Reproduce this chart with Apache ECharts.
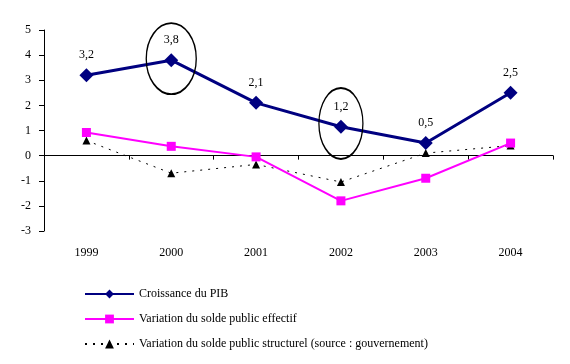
<!DOCTYPE html>
<html><head><meta charset="utf-8">
<script src="https://cdn.jsdelivr.net/npm/echarts@6/dist/echarts.min.js"></script>
<style>html,body{margin:0;padding:0;background:#fff}#c{width:570px;height:364px}</style>
</head><body><div id="c"></div>
<script>
const years = ['1999','2000','2001','2002','2003','2004'];
const croissance = [3.2, 3.8, 2.1, 1.15, 0.5, 2.5];
const croissanceLabels = ['3,2','3,8','2,1','1,2','0,5','2,5'];
const effectif = [0.92, 0.37, -0.05, -1.8, -0.9, 0.5];
const structurel = [0.6, -0.7, -0.35, -1.05, 0.1, 0.4];
const yTicks = [-3,-2,-1,0,1,2,3,4,5];
const highlighted = [{year:'2000', value:3.86}, {year:'2002', value:1.28}];
const highlightSizes = [[50,71],[44,71]];
const names = ['Croissance du PIB','Variation du solde public effectif','Variation du solde public structurel (source : gouvernement)'];

const font = 'Liberation Serif';
const chart = echarts.init(document.getElementById('c'));
chart.setOption({
  animation:false,
  textStyle:{fontFamily:font},
  grid:{left:44,right:17,top:30,bottom:133},
  xAxis:{
    type:'category', data:years,
    axisLine:{show:true,onZero:true,lineStyle:{color:'#000',width:1}},
    axisTick:{show:true,length:4,lineStyle:{color:'#000'}},
    axisLabel:{color:'#000',fontFamily:font,fontSize:12,margin:16}
  },
  yAxis:{
    type:'value', min:-3, max:5, interval:1,
    axisLine:{show:true,lineStyle:{color:'#000'}},
    axisTick:{show:true,length:5,lineStyle:{color:'#000'}},
    splitLine:{show:false},
    axisLabel:{color:'#000',fontFamily:font,fontSize:12,margin:13,
      formatter:v=>yTicks.includes(v)?String(v):''}
  },
  legend:{
    orient:'vertical', left:79, top:283, itemWidth:49, itemHeight:11, itemGap:13,
    textStyle:{color:'#000',fontFamily:font,fontSize:12},
    data:names
  },
  series:[{
    name:names[0], type:'line', data:croissance,
    symbol:'diamond', symbolSize:14, color:'#000080',
    lineStyle:{color:'#000080',width:3},
    itemStyle:{color:'#000080'},
    label:{show:true,position:'top',distance:7,color:'#000',fontFamily:font,fontSize:12,
      formatter:p=>croissanceLabels[p.dataIndex]},
    markPoint:{
      symbol:'circle', silent:true,
      itemStyle:{color:'rgba(0,0,0,0)',borderColor:'#000',borderWidth:1.6},
      label:{show:false},
      data:highlighted.map((h,i)=>({coord:[h.year,h.value],symbolSize:highlightSizes[i]}))
    },
    z:3
  },{
    name:names[1], type:'line', data:effectif,
    symbol:'rect', symbolSize:9, color:'#ff00ff',
    lineStyle:{color:'#ff00ff',width:2},
    itemStyle:{color:'#ff00ff'}, z:2
  },{
    name:names[2], type:'line', data:structurel,
    symbol:'triangle', symbolSize:8, color:'#000',
    lineStyle:{color:'#000',width:1,type:[2,6]},
    itemStyle:{color:'#000'}, z:1
  }]
});
</script></body></html>
